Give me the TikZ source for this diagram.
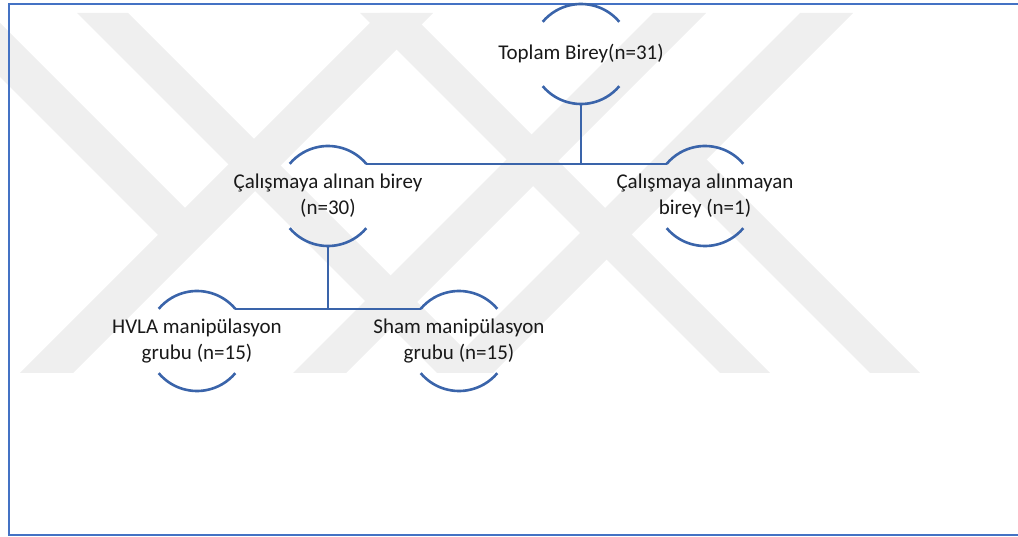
\documentclass[tikz,border=0pt]{standalone}
\usepackage{fontspec}
\setmainfont{Carlito}
\definecolor{cizgi}{HTML}{3A64AA}
\definecolor{cerceve}{HTML}{4472C4}
\definecolor{filigran}{HTML}{EFEFEF}
\tikzset{
  halka/.style={circle, minimum size=100pt, inner sep=0pt, outer sep=0pt},
  yazi/.style={align=center, font=\fontsize{21}{26}\selectfont, text=black!90},
  yay/.style={draw=cizgi, line width=2.6pt},
}

\begin{document}
\begin{tikzpicture}[x=1pt, y=-1pt]
\useasboundingbox (0,0) rectangle (1018,537);
\fill[filigran] (20,373) -- (73,373) -- (433,13) -- (380,13) -- cycle;
\fill[filigran] (0,23) -- (211.5,234.5) -- (158,235) -- (0,77) -- cycle;
\fill[filigran] (77,13) -- (128,13) -- (488,373) -- (437,373) -- cycle;
\fill[filigran] (293,373) -- (346,373) -- (706,13) -- (653,13) -- cycle;
\fill[filigran] (800,13) -- (853,13) -- (493,373) -- (440,373) -- cycle;
\fill[filigran] (655,158) -- (870,373) -- (920,373) -- (706.5,159.5) -- cycle;
\fill[filigran] (360,13) -- (410,13) -- (770,373) -- (720,373) -- cycle;

\draw[cerceve, line width=1.6pt] (1018,4) -- (9,4) -- (9,535) -- (1018,535);

\node[halka] (toplam) at (581,54) {};
\node[halka] (alinan) at (328,196) {};
\node[halka] (alinmayan) at (705,196) {};
\node[halka] (hvla) at (197,341) {};
\node[halka] (sham) at (459,341) {};

\node[yazi] (toplamyazi) at (toplam) {Toplam Birey(n=31)};
\node[yazi] (alinanyazi) at (alinan) {Çalışmaya alınan birey\\(n=30)};
\node[yazi] (alinmayanyazi) at (alinmayan) {Çalışmaya alınmayan\\birey (n=1)};
\node[yazi] (hvlayazi) at (hvla) {HVLA manipülasyon\\grubu (n=15)};
\node[yazi] (shamyazi) at (sham) {Sham manipülasyon\\grubu (n=15)};

\foreach \n in {toplam, alinan, alinmayan, hvla, sham} {
  \draw[yay] (\n.40) arc (40:140:50pt);
  \draw[yay] (\n.220) arc (220:320:50pt);
}
\draw[yay] (toplam.south) -- (toplam.south |- alinan.40);
\draw[yay] (alinan.40) -- (alinmayan.140);
\draw[yay] (alinan.south) -- (alinan.south |- hvla.40);
\draw[yay] (hvla.40) -- (sham.140);
\end{tikzpicture}
\end{document}
